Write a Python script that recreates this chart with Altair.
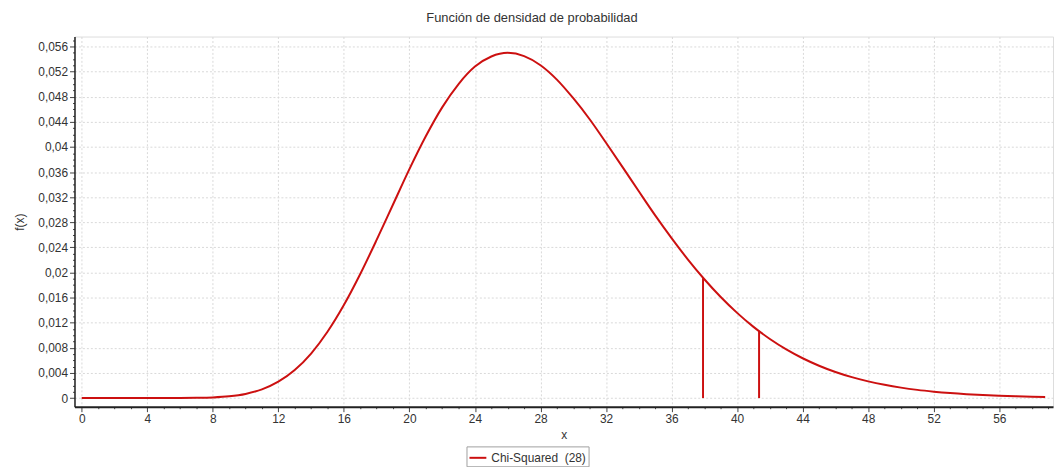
import altair as alt
import pandas as pd

# Curve: chi-squared density with 28 degrees of freedom
x_vals = [0, 1, 2, 3, 4, 5, 6, 7, 8, 9, 10, 11, 12, 13, 14, 15, 16, 17, 18, 19,
          20, 21, 22, 23, 24, 25, 26, 27, 28, 29, 30, 31, 32, 33, 34, 35, 36, 37,
          38, 39, 40, 41, 42, 43, 44, 45, 46, 47, 48, 49, 50, 51, 52, 53, 54, 55,
          56, 57, 58, 58.8]
fx_vals = [0.0, 0.0, 0.0, 0.0, 0.0, 0.000001, 0.000006, 0.00003, 0.0001, 0.00028,
           0.00066, 0.00138, 0.0026, 0.00446, 0.00709, 0.01056, 0.01481, 0.01976,
           0.02519, 0.03084, 0.03647, 0.0417, 0.04631, 0.05003, 0.05281, 0.05442,
           0.0550, 0.05448, 0.05303, 0.05074, 0.04777, 0.04442, 0.04067, 0.03684,
           0.03294, 0.0291, 0.02548, 0.02206, 0.01893, 0.0161, 0.01357, 0.01134,
           0.00941, 0.00775, 0.00634, 0.00515, 0.00415, 0.00333, 0.00266, 0.00211,
           0.00166, 0.0013, 0.00102, 0.00079, 0.00061, 0.00047, 0.00036, 0.00028,
           0.00021, 0.00018]

# Vertical marker lines
crit_x = [37.92, 41.34]
crit_fx = [0.0191, 0.0107]

series_name = "Chi-Squared\u00a0 (28)"
title_text = "Función de densidad de probabilidad"

x_ticks = list(range(0, 60))
y_ticks = [i / 1000 for i in range(0, 58)]

curve = pd.DataFrame({"x": x_vals, "fx": fx_vals, "serie": series_name})
crit = pd.DataFrame({"x": crit_x, "fx": crit_fx, "zero": [0.0] * len(crit_x)})

RED = "#CC1010"
FONT = "Liberation Sans"
TXT = "#333333"

x_scale = alt.Scale(domain=[-0.44, 59.28], nice=False, zero=False)
y_scale = alt.Scale(domain=[-0.00138, 0.0576], nice=False, zero=False)

x_axis = alt.Axis(
    title="x",
    values=x_ticks,
    labelExpr="datum.value % 4 === 0 ? datum.label : ''",
    tickSize={"condition": {"test": "datum.value % 4 === 0", "value": 5}, "value": 2},
    gridOpacity={"condition": {"test": "datum.value % 4 === 0", "value": 1}, "value": 0},
    grid=True,
    gridColor="#d9d9d9",
    gridDash=[2, 2],
    domainColor="#222222",
    domainWidth=2,
    tickColor="#444444",
    labelFont=FONT,
    labelFontSize=12,
    labelColor=TXT,
    labelPadding=2,
    labelFlush=False,
    labelOverlap=False,
    titleFont=FONT,
    titleFontSize=12,
    titleFontWeight="normal",
    titleColor=TXT,
    titlePadding=5,
)

y_axis = alt.Axis(
    title="f(x)",
    values=y_ticks,
    labelExpr="round(datum.value * 1000) % 4 === 0 ? replace(format(datum.value, '.3~f'), '.', ',') : ''",
    tickSize={"condition": {"test": "round(datum.value * 1000) % 4 === 0", "value": 5}, "value": 2},
    gridOpacity={"condition": {"test": "round(datum.value * 1000) % 4 === 0", "value": 1}, "value": 0},
    grid=True,
    gridColor="#d9d9d9",
    gridDash=[2, 2],
    domainColor="#222222",
    domainWidth=1.5,
    tickColor="#444444",
    labelFont=FONT,
    labelFontSize=12,
    labelColor=TXT,
    labelPadding=2,
    labelFlush=False,
    labelOverlap=False,
    labelBound=False,
    titleFont=FONT,
    titleFontSize=12,
    titleFontWeight="normal",
    titleColor=TXT,
    titlePadding=11,
)

line = alt.Chart(curve).mark_line(strokeWidth=2, interpolate="monotone").encode(
    x=alt.X("x:Q", scale=x_scale, axis=x_axis),
    y=alt.Y("fx:Q", scale=y_scale, axis=y_axis),
    color=alt.Color(
        "serie:N",
        scale=alt.Scale(domain=[series_name], range=[RED]),
        legend=alt.Legend(
            title=None,
            orient="none",
            legendX=395,
            legendY=413,
            symbolType="stroke",
            symbolStrokeWidth=2,
            symbolSize=289,
            labelFont=FONT,
            labelFontSize=12,
            labelColor=TXT,
            strokeColor="#a0a0a0",
            padding=2,
            fillColor="white",
        ),
    ),
)

rules = alt.Chart(crit).mark_rule(color=RED, strokeWidth=2).encode(
    x=alt.X("x:Q", scale=x_scale, axis=x_axis),
    y=alt.Y("zero:Q", scale=y_scale, axis=y_axis),
    y2="fx:Q",
)

chart = alt.layer(line, rules).properties(
    width=986,
    height=373,
    title=alt.TitleParams(
        text=title_text,
        font=FONT,
        fontSize=13,
        fontWeight="normal",
        color=TXT,
        anchor="middle",
        dx=-32,
        offset=9,
    ),
    autosize=alt.AutoSizeParams(type="none"),
    padding={"left": 67, "top": 27, "right": 3, "bottom": 59},
).configure_axis(
    labelOverlap=False,
).configure_view(
    stroke="#555555",
    strokeWidth=1.5,
).configure(background="white")

chart.save("out.html", embed_options={"renderer": "svg", "actions": False})
